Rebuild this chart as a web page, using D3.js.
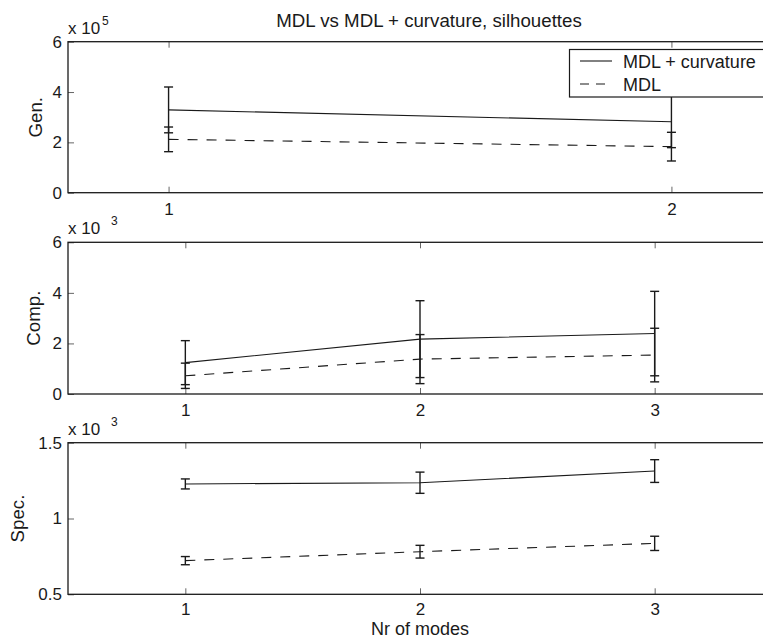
<!DOCTYPE html>
<html>
<head>
<meta charset="utf-8">
<script src="https://cdn.jsdelivr.net/npm/d3@7"></script>
<style>
    body { margin: 0; background: #fff; }
    text { font-family: "Liberation Sans", Arial, Helvetica, sans-serif; fill: #1a1a1a; }
    .frame { fill: none; stroke: #1a1a1a; stroke-width: 1.3; }
    .tick line { stroke: #666; stroke-width: 1; }
    .domain { display: none; }
    .curv { fill: none; stroke: #1a1a1a; stroke-width: 1.1; }
    .mdl { fill: none; stroke: #1a1a1a; stroke-width: 1.1; stroke-dasharray: 10,9; }
    .err { stroke: #1a1a1a; stroke-width: 1.4; }
</style>
</head>
<body>
<svg id="chart" width="763" height="639"></svg>
<script>
const genModes = [1, 2];
const genCurv = [329000, 282000];
const genCurvErr = [91000, 103000];
const genMdl = [212000, 183000];
const genMdlErr = [49000, 57000];

const compModes = [1, 2, 3];
const compCurv = [1240, 2170, 2390];
const compCurvErr = [870, 1520, 1670];
const compMdl = [720, 1380, 1540];
const compMdlErr = [500, 970, 1060];

const specModes = [1, 2, 3];
const specCurv = [1228, 1236, 1313];
const specCurvErr = [33, 70, 75];
const specMdl = [722, 781, 836];
const specMdlErr = [27, 42, 47];

const legendLabels = ["MDL + curvature", "MDL"];

const svg = d3.select("#chart");
const left = 68, right = 772;
const tickFont = "17px", labelFont = "18.7px";

const drawPanel = (cfg)=>{
    let g = svg.append("g");
    let xScale = d3.scaleLinear().domain(cfg.xDomain).range([left, right]);
    let yScale = d3.scaleLinear().domain(cfg.yDomain).range([cfg.bottom, cfg.top]);

    let fmt = (d)=>String(+(d / cfg.exp).toFixed(2));

    // inward ticks: bottom (labelled), top, left
    let xAxis = d3.axisBottom(xScale).tickValues(cfg.modes).tickSize(-6).tickPadding(cfg.xPad).tickFormat(d3.format("d"));
    g.append("g")
    .attr("class", "x axis")
    .attr("transform", "translate(0," + cfg.bottom + ")")
    .call(xAxis)
    .selectAll("text").attr("font-size", tickFont).attr("dy", "0.72em");

    g.append("g")
    .attr("class", "x axis")
    .attr("transform", "translate(0," + cfg.top + ")")
    .call(d3.axisTop(xScale).tickValues(cfg.modes).tickSize(-6).tickFormat(""));

    g.append("g")
    .attr("class", "y axis")
    .attr("transform", "translate(" + left + ",0)")
    .call(d3.axisLeft(yScale).tickValues(cfg.yTicks).tickSize(-6).tickPadding(6).tickFormat(fmt))
    .selectAll("text").attr("font-size", tickFont);

    g.append("rect")
    .attr("class", "frame")
    .attr("x", left)
    .attr("y", cfg.top)
    .attr("width", right - left)
    .attr("height", cfg.bottom - cfg.top);

    let line = d3.line()
    .x((d)=>xScale(d[0]))
    .y((d)=>yScale(d[1]));

    let series = [
        {cls: "curv", vals: cfg.curv, errs: cfg.curvErr},
        {cls: "mdl", vals: cfg.mdl, errs: cfg.mdlErr}
    ];

    series.forEach((s)=>{
        let pts = cfg.modes.map((m, i)=>[m, s.vals[i], s.errs[i]]);

        g.append("path")
        .datum(pts)
        .attr("class", s.cls)
        .attr("d", line);

        let eb = g.selectAll(".eb-" + s.cls)
        .data(pts)
        .enter().append("g")
        .attr("class", "eb-" + s.cls);

        eb.append("line").attr("class", "err")
        .attr("x1", (d)=>xScale(d[0])).attr("x2", (d)=>xScale(d[0]))
        .attr("y1", (d)=>yScale(d[1] - d[2])).attr("y2", (d)=>yScale(d[1] + d[2]));
        eb.append("line").attr("class", "err")
        .attr("x1", (d)=>xScale(d[0]) - 4.5).attr("x2", (d)=>xScale(d[0]) + 4.5)
        .attr("y1", (d)=>yScale(d[1] + d[2])).attr("y2", (d)=>yScale(d[1] + d[2]));
        eb.append("line").attr("class", "err")
        .attr("x1", (d)=>xScale(d[0]) - 4.5).attr("x2", (d)=>xScale(d[0]) + 4.5)
        .attr("y1", (d)=>yScale(d[1] - d[2])).attr("y2", (d)=>yScale(d[1] - d[2]));
    });

    // exponent label
    let ex = g.append("text")
    .attr("x", left)
    .attr("y", cfg.top - 8)
    .attr("font-size", tickFont);
    ex.append("tspan").text("x 10");
    ex.append("tspan").attr("x", cfg.supX).attr("dy", "-9").attr("font-size", "12px").text(cfg.expText);

    g.append("text")
    .attr("transform", "translate(" + cfg.labelX + "," + (cfg.top + cfg.bottom) / 2 + ") rotate(-90)")
    .attr("text-anchor", "middle")
    .attr("font-size", labelFont)
    .text(cfg.label);

    return g;
}

const drawChart = ()=>{
    let top = drawPanel({
        top: 41.7, bottom: 192.7, xDomain: [0.8, 2.2], modes: genModes, xPad: 10,
        yDomain: [0, 600000], yTicks: [0, 200000, 400000, 600000], exp: 1e5, expText: "5", supX: 102,
        curv: genCurv, curvErr: genCurvErr, mdl: genMdl, mdlErr: genMdlErr,
        label: "Gen.", labelX: 42
    });

    drawPanel({
        top: 242.3, bottom: 394, xDomain: [0.5, 3.5], modes: compModes, xPad: 10,
        yDomain: [0, 6000], yTicks: [0, 2000, 4000, 6000], exp: 1e3, expText: "3", supX: 111,
        curv: compCurv, curvErr: compCurvErr, mdl: compMdl, mdlErr: compMdlErr,
        label: "Comp.", labelX: 40
    });

    drawPanel({
        top: 442.7, bottom: 594.3, xDomain: [0.5, 3.5], modes: specModes, xPad: 8,
        yDomain: [500, 1500], yTicks: [500, 1000, 1500], exp: 1e3, expText: "3", supX: 111,
        curv: specCurv, curvErr: specCurvErr, mdl: specMdl, mdlErr: specMdlErr,
        label: "Spec.", labelX: 24
    });

    // legend
    let lg = top.append("g");
    lg.append("rect")
    .attr("x", 569.5).attr("y", 49.5)
    .attr("width", 220).attr("height", 47.5)
    .attr("fill", "#fff").attr("stroke", "#1a1a1a").attr("stroke-width", 1.2);

    legendLabels.forEach((lab, i)=>{
        let y = 61 + i * 23;
        lg.append("line")
        .attr("class", i == 0 ? "curv" : "mdl")
        .attr("x1", 580).attr("x2", 612)
        .attr("y1", y).attr("y2", y)
        .style("stroke-dasharray", i == 0 ? null : "9,7");
        lg.append("text")
        .attr("x", 623).attr("y", y + 6.5)
        .attr("font-size", "18px")
        .text(lab);
    });

    svg.append("text")
    .attr("x", 429).attr("y", 27)
    .attr("text-anchor", "middle")
    .attr("font-size", labelFont)
    .text("MDL vs MDL + curvature, silhouettes");

    svg.append("text")
    .attr("x", 420).attr("y", 635)
    .attr("text-anchor", "middle")
    .attr("font-size", "18px")
    .text("Nr of modes");
}

window.onload = function(){
    drawChart();
}
</script>
</body>
</html>
